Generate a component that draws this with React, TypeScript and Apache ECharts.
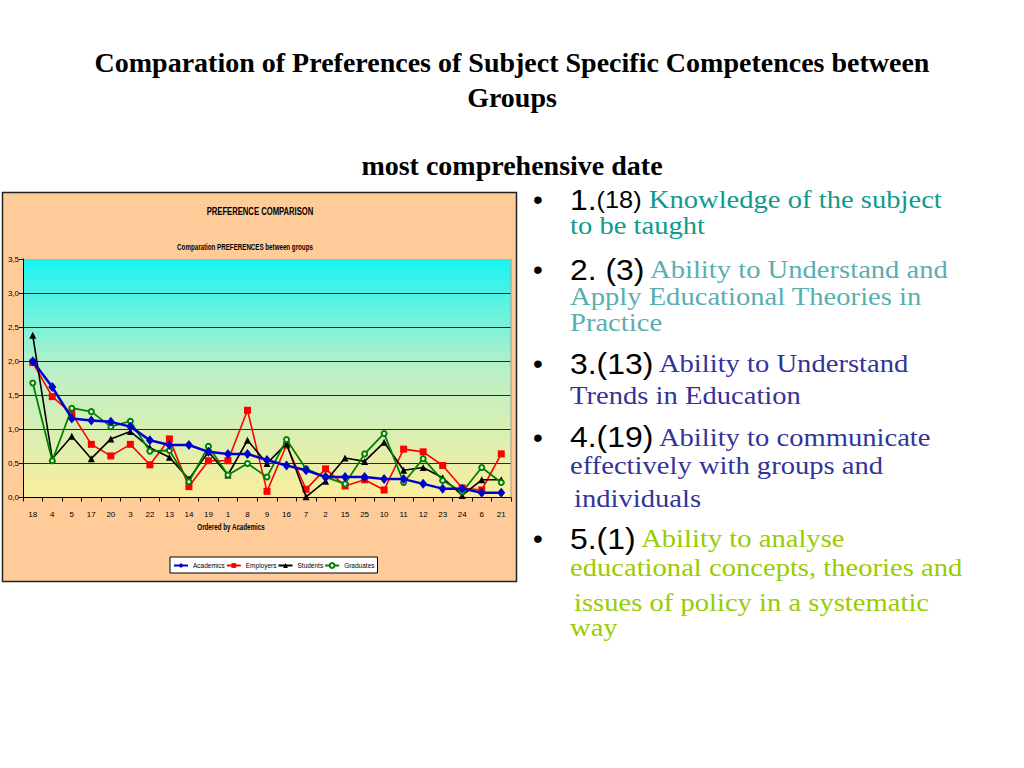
import React, { useEffect, useRef } from "react";
import * as echarts from "echarts";

const categories = ["18", "4", "5", "17", "20", "3", "22", "13", "14", "19", "1", "8", "9", "16", "7", "2", "15", "25", "10", "11", "12", "23", "24", "6", "21"];
const academics = [2.0, 1.62, 1.16, 1.13, 1.11, 1.04, 0.84, 0.77, 0.77, 0.67, 0.64, 0.64, 0.55, 0.47, 0.4, 0.3, 0.3, 0.3, 0.27, 0.27, 0.2, 0.13, 0.13, 0.07, 0.07];
const employers = [1.98, 1.48, 1.23, 0.78, 0.61, 0.78, 0.48, 0.86, 0.16, 0.54, 0.54, 1.28, 0.09, 0.77, 0.12, 0.42, 0.17, 0.26, 0.11, 0.71, 0.67, 0.47, 0.14, 0.11, 0.64];
const students = [2.38, 0.57, 0.9, 0.57, 0.86, 0.97, 0.73, 0.59, 0.27, 0.67, 0.33, 0.84, 0.5, 0.79, 0.01, 0.24, 0.58, 0.53, 0.81, 0.4, 0.44, 0.29, 0.03, 0.26, 0.26];
const graduates = [1.68, 0.54, 1.31, 1.26, 1.04, 1.12, 0.68, 0.69, 0.23, 0.75, 0.33, 0.5, 0.3, 0.85, 0.42, 0.3, 0.2, 0.64, 0.94, 0.22, 0.57, 0.25, 0.08, 0.44, 0.22];
const seriesNames = ["Academics", "Employers", "Students", "Graduates"];

const pageTitle1 = "Comparation of Preferences of Subject Specific Competences between";
const pageTitle2 = "Groups";
const pageTitle3 = "most comprehensive date";
const chartTitle = "PREFERENCE COMPARISON";
const chartSubtitle = "Comparation PREFERENCES between groups";
const xAxisTitle = "Ordered by Academics";

const SERIF = "'Liberation Serif', 'Times New Roman', serif";
const SANS = "'Liberation Sans', Arial, sans-serif";

export default function App() {
  const ref = useRef<HTMLDivElement>(null);
  useEffect(() => {
    if (!ref.current) return;
    const chart = echarts.init(ref.current, null, { renderer: "svg" });
    const teal = "#0E9A8E";
    const teal2 = "#58AFB0";
    const navy = "#333399";
    const lime = "#99CC00";
    const rich = {
      n: { fontFamily: SANS, fontSize: 29, fill: "#000", lineHeight: 24 },
      s: { fontFamily: SANS, fontSize: 23, fill: "#000", lineHeight: 22 },
      a: { fontFamily: SERIF, fontSize: 26, fill: teal, lineHeight: 22 },
      b: { fontFamily: SERIF, fontSize: 26, fill: teal2, lineHeight: 22 },
      c: { fontFamily: SERIF, fontSize: 26, fill: navy, lineHeight: 22 },
      d: { fontFamily: SERIF, fontSize: 26, fill: lime, lineHeight: 22 },
    };
    const line = (x: number, y: number, text: string) => ({
      type: "text",
      x,
      y,
      scaleX: 1.1,
      style: { text, rich, font: `26px ${SERIF}`, verticalAlign: "middle", align: "left" },
    });
    const bullet = (y: number) => ({
      type: "text",
      x: 533,
      y,
      style: { text: "•", font: `28px ${SANS}`, fill: "#000", verticalAlign: "middle", align: "left" },
    });
    const pTitle = (y: number, text: string) => ({
      type: "text",
      x: 512,
      y,
      style: { text, font: `bold 28px ${SERIF}`, fill: "#000", align: "center", verticalAlign: "middle" },
    });
    const smallText = (x: number, y: number, text: string, size: number) => ({
      type: "text",
      x,
      y,
      scaleX: 0.73,
      style: { text, font: `bold ${size}px ${SANS}`, fill: "#000", align: "center", verticalAlign: "middle" },
    });

    const option: any = {
      animation: false,
      backgroundColor: "#ffffff",
      grid: {
        left: 23,
        top: 259,
        width: 488,
        height: 238.5,
        show: true,
        borderWidth: 0,
        backgroundColor: {
          type: "linear",
          x: 0,
          y: 0,
          x2: 0,
          y2: 1,
          colorStops: [
            { offset: 0, color: "#18F4F2" },
            { offset: 0.45, color: "#B8F0C8" },
            { offset: 1, color: "#FAEE9E" },
          ],
        },
      },
      xAxis: {
        type: "category",
        data: categories,
        boundaryGap: true,
        axisLine: { show: true, lineStyle: { color: "#000", width: 1 } },
        axisTick: { show: true, length: 4, interval: 0, lineStyle: { color: "#000" } },
        axisLabel: { interval: 0, fontSize: 8, color: "#000", fontFamily: SANS, margin: 13 },
        splitLine: { show: false },
      },
      yAxis: {
        type: "value",
        min: 0,
        max: 3.5,
        interval: 0.5,
        axisLine: { show: true, lineStyle: { color: "#000", width: 1 } },
        axisTick: { show: true, length: 4, lineStyle: { color: "#000" } },
        axisLabel: {
          fontSize: 8,
          color: "#000",
          fontFamily: SANS,
          margin: 4,
          formatter: (v: number) => v.toFixed(1).replace(".", ","),
        },
        splitLine: { show: true, showMaxLine: false, lineStyle: { color: "#2a2a1a", width: 1 } },
      },
      legend: {
        left: 170,
        top: 557,
        orient: "horizontal",
        data: seriesNames,
        itemWidth: 14,
        itemHeight: 6,
        itemGap: 1,
        padding: [5, 3, 4, 3],
        backgroundColor: "#fff",
        borderColor: "#000",
        borderWidth: 1,
        borderRadius: 0,
        textStyle: { fontSize: 6.5, fontFamily: SANS, color: "#000" },
      },
      graphic: [
        {
          type: "rect",
          z: -10,
          shape: { x: 2.5, y: 192.5, width: 514, height: 389 },
          style: { fill: "#FFCC99", stroke: "#222", lineWidth: 1.5 },
        },
        {
          type: "line",
          z: 10,
          shape: { x1: 511, y1: 259, x2: 511, y2: 497.5 },
          style: { stroke: "#9a9a9a", lineWidth: 1 },
        },
        smallText(260, 212, chartTitle, 10.5),
        smallText(245, 247, chartSubtitle, 8.5),
        smallText(231, 527, xAxisTitle, 8.5),
        pTitle(62, pageTitle1),
        pTitle(97, pageTitle2),
        pTitle(165, pageTitle3),
        bullet(199.5),
        line(570, 199.5, "{n|1.}{s|(18)}{a| Knowledge of the subject}"),
        line(570, 225.5, "{a|to be taught}"),
        bullet(269.5),
        line(570, 269.5, "{n|2. (3)}{b| Ability to Understand and}"),
        line(570, 296.5, "{b|Apply Educational Theories in}"),
        line(570, 322, "{b|Practice}"),
        bullet(363.5),
        line(570, 363.5, "{n|3.(13)}{c| Ability to Understand}"),
        line(570, 395.5, "{c|Trends in Education}"),
        bullet(437),
        line(570, 437, "{n|4.(19)}{c| Ability to communicate}"),
        line(570, 465.5, "{c|effectively with groups and}"),
        line(574, 498.5, "{c|individuals}"),
        bullet(538.5),
        line(570, 538.5, "{n|5.(1)}{d| Ability to analyse}"),
        line(570, 567, "{d|educational concepts, theories and}"),
        line(574, 602, "{d|issues of policy in a systematic}"),
        line(570, 627, "{d|way}"),
      ],
      series: [
        {
          name: "Academics",
          type: "line",
          data: academics,
          z: 6,
          symbol: "diamond",
          symbolSize: [8, 10],
          lineStyle: { color: "#0000CC", width: 2.5 },
          itemStyle: { color: "#0000CC" },
        },
        {
          name: "Employers",
          type: "line",
          data: employers,
          z: 3,
          symbol: "rect",
          symbolSize: 7,
          lineStyle: { color: "#FF0000", width: 1.6 },
          itemStyle: { color: "#FF0000" },
        },
        {
          name: "Students",
          type: "line",
          data: students,
          z: 4,
          symbol: "triangle",
          symbolSize: 7,
          lineStyle: { color: "#000000", width: 1.6 },
          itemStyle: { color: "#000000" },
        },
        {
          name: "Graduates",
          type: "line",
          data: graduates,
          z: 5,
          symbol: "emptyCircle",
          symbolSize: 5,
          lineStyle: { color: "#008000", width: 1.8 },
          itemStyle: { color: "#008000", borderColor: "#008000", borderWidth: 1 },
        },
      ],
    };
    chart.setOption(option);
    return () => chart.dispose();
  }, []);
  return <div ref={ref} style={{ position: "absolute", left: 0, top: 0, width: 1024, height: 768 }} />;
}
